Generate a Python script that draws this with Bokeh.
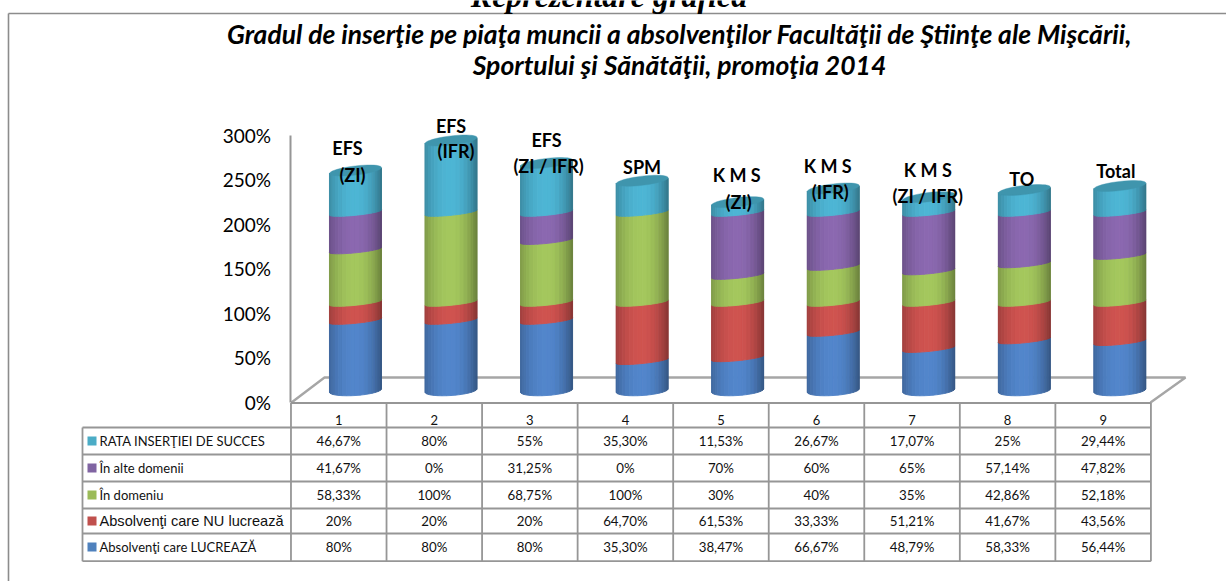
import math
from bokeh.embed import file_html
from bokeh.resources import INLINE
from bokeh.plotting import figure
from bokeh.models import LinearAxis, Range1d, FixedTicker, PrintfTickFormatter
from bokeh.core.properties import value

# ---- data
categories = [1, 2, 3, 4, 5, 6, 7, 8, 9]
lucreaza = [80, 80, 80, 35.30, 38.47, 66.67, 48.79, 58.33, 56.44]
nu_lucreaza = [20, 20, 20, 64.70, 61.53, 33.33, 51.21, 41.67, 43.56]
in_domeniu = [58.33, 100, 68.75, 100, 30, 40, 35, 42.86, 52.18]
in_alte = [41.67, 0, 31.25, 0, 70, 60, 65, 57.14, 47.82]
rata = [46.67, 80, 55, 35.30, 11.53, 26.67, 17.07, 25, 29.44]
series_names = ["Absolvenţi care LUCREAZĂ", "Absolvenţi care NU lucrează", "În  domeniu",
                "În alte  domenii", "RATA INSERŢIEI  DE  SUCCES"]
y_ticks = [0, 50, 100, 150, 200, 250, 300]
bar_labels = [["EFS", "(ZI)"], ["EFS", "(IFR)"], ["EFS", "(ZI / IFR)"], ["SPM"], ["K M S", "(ZI)"],
              ["K M S", "(IFR)"], ["K M S", "(ZI / IFR)"], ["TO"], ["Total"]]
title_lines = ["Gradul de inserţie pe piaţa muncii a absolvenţilor Facultăţii de Ştiinţe ale Mişcării,",
               "Sportului şi Sănătăţii, promoţia 2014"]
heading = "Reprezentare grafică"

series = [lucreaza, nu_lucreaza, in_domeniu, in_alte, rata]
colors = [(79, 129, 196), (200, 80, 77), (158, 192, 90), (134, 101, 170), (75, 175, 205)]

# ---- layout (page pixels)
W, H = 1226, 581
COL = 95.55
X1 = 338.25
K = 0.90
Y0 = 392.0
x_left = (0 - X1) / COL + 1
x_right = (W - X1) / COL + 1
v_top = Y0 / K
v_bot = (Y0 - H) / K
AX_K = 0.89
AX_Y0 = 401.5

p = figure(width=W, height=H, output_backend="svg", toolbar_location=None,
           x_axis_location=None, y_axis_location=None, min_border=0,
           x_range=Range1d(x_left, x_right), y_range=Range1d(v_bot, v_top))
p.outline_line_color = None
p.grid.visible = False
p.background_fill_color = "white"
p.extra_x_ranges["px"] = Range1d(0, W)
p.extra_y_ranges["px"] = Range1d(H, 0)
p.extra_y_ranges["axis"] = Range1d((AX_Y0 - H) / AX_K, AX_Y0 / AX_K)

GRAY = "#969696"
FONT = value("Lato")

# outer frame
p.line([8, 8], [581, 13], x_range_name="px", y_range_name="px", line_color="#8c8c8c", line_width=1.6)
p.line([8, 1226], [13, 13], x_range_name="px", y_range_name="px", line_color="#8c8c8c", line_width=1.4)

# floor
p.line([291, 324, 1185, 1150], [402, 377, 377, 402], x_range_name="px", y_range_name="px",
       line_color="#a6a6a6", line_width=2.4)

# table grid
row_edges = [427, 454, 481, 508, 533, 560.7]
col_edges = [0.5 + i for i in range(10)]
px_col = [X1 + (c - 1) * COL for c in col_edges]
xs = [[c, c] for c in px_col] + [[82, 82]] + [[82, px_col[-1]] for _ in row_edges] + [[px_col[0], px_col[-1]]]
ys = [[402.5, 560.7] for _ in px_col] + [[427, 560.7]] + [[r, r] for r in row_edges] + [[402.5, 402.5]]
p.multi_line(xs, ys, x_range_name="px", y_range_name="px", line_color=GRAY, line_width=1.8)


def shade(rgb, s):
    if s >= 0:
        f = 1.04 - 0.36 * s ** 2.2
    else:
        f = 1.04 - 0.24 * abs(s) ** 2.2
    return "#%02x%02x%02x" % tuple(min(255, int(c * f)) for c in rgb)


R = 26 / COL
OFF = 0.175
N = 18


def curve(v, s, tilt, bulge, shift=0.0):
    return v + (tilt * s - bulge * math.sqrt(max(0, 1 - s * s)) + shift) / K


px_, py_, pc_ = [], [], []
for i, cat in enumerate(categories):
    cx = cat + OFF
    base = 0.0
    for j, ser in enumerate(series):
        val = ser[i]
        top = base + val
        if val > 0:
            for n in range(N):
                a0 = math.pi * (1 - n / N)
                a1 = math.pi * (1 - (n + 1) / N)
                s0, s1 = math.cos(a0), math.cos(a1)
                if base == 0:
                    low0 = curve(base, s0, 1.7, 5.0, 2.0)
                    low1 = curve(base, s1, 1.7, 5.0, 2.0)
                else:
                    low0 = curve(base, s0, 2.6, 2.8)
                    low1 = curve(base, s1, 2.6, 2.8)
                hi0 = curve(top, s0, 2.6, 2.8)
                hi1 = curve(top, s1, 2.6, 2.8)
                px_.append([cx + R * s0, cx + R * s1, cx + R * s1, cx + R * s0])
                py_.append([low0, low1, hi1, hi0])
                pc_.append(shade(colors[j], (s0 + s1) / 2))
        base = top
p.patches(px_, py_, fill_color=pc_, line_color=pc_, line_width=0.9)

# top caps
cap_x, cap_y = [], []
for i, cat in enumerate(categories):
    total = sum(s[i] for s in series)
    cx = cat + OFF
    xx, yy = [], []
    for n in range(40):
        t = 2 * math.pi * n / 40
        c, sn = math.cos(t), math.sin(t)
        xx.append(cx + R * c)
        yy.append(total + (3.0 * c + 4.6 * sn) / K)
    cap_x.append(xx)
    cap_y.append(yy)
p.patches(cap_x, cap_y, fill_color="#3f95ad", line_color="#3f95ad", line_width=0.4)

# value axis
axis = LinearAxis(y_range_name="axis", fixed_location=0.5, ticker=FixedTicker(ticks=y_ticks),
                  formatter=PrintfTickFormatter(format="%d%%"), bounds=(0, 300))
axis.axis_line_color = "#969696"
axis.axis_line_width = 2
axis.major_tick_line_color = None
axis.minor_tick_line_color = None
axis.major_tick_in = 0
axis.major_tick_out = 0
axis.major_label_standoff = 20
axis.major_label_text_font = "Lato"
axis.major_label_text_font_size = "19px"
axis.major_label_text_color = "black"
p.add_layout(axis, "left")


def fmt(v):
    if float(v).is_integer():
        return "%d%%" % v
    return ("%.2f%%" % v).replace(".", ",")


# bar names
label_y = [[147.7, 174], [125, 150], [139, 165.7], [166.7], [174, 201], [165, 191.7], [169, 195.7], [178], [170]]
label_dx = [[-8, -3], [0, 5], [0, 2], [0], [-1, 1], [-5.5, -3], [-1, -1], [-2.5], [-4]]
lx, ly, lt = [], [], []
for i, lines in enumerate(bar_labels):
    for ln, yy, dx in zip(lines, label_y[i], label_dx[i]):
        lx.append(categories[i] + OFF + dx / COL)
        ly.append(yy)
        lt.append(ln)
p.text(lx, ly, text=lt, y_range_name="px", text_font=FONT, text_font_style="bold",
       text_font_size="18px", text_align="center", text_baseline="middle", text_color="black")

# table texts
row_centers = [546.5, 520.5, 494.5, 467.5, 440.5]
cx_, cy_, ct_ = [], [], []
for j, ser in enumerate(series):
    for i, cat in enumerate(categories):
        cx_.append(cat)
        cy_.append(row_centers[j])
        ct_.append(fmt(ser[i]))
p.text(cx_, cy_, text=ct_, y_range_name="px", text_font=FONT, text_font_size="13.3px",
       text_align="center", text_baseline="middle", text_color="#111111")
p.text(categories, [419] * 9, text=[str(c) for c in categories], y_range_name="px", text_font=FONT,
       text_font_size="13px", text_align="center", text_baseline="middle", text_color="#111111")

# legend keys in the table
hexes = ["#4f81bd", "#c0504d", "#9bbb59", "#8064a2", "#4bacc6"]
p.quad(left=[87] * 5, right=[96] * 5, top=[c - 4.5 for c in row_centers], bottom=[c + 4.5 for c in row_centers],
       x_range_name="px", y_range_name="px", fill_color=hexes, line_color=None)
sizes = ["13px", "14.6px", "13px", "13px", "13px"]
fonts = ["Lato", "Liberation Sans", "Lato", "Lato", "Lato"]
for j, name in enumerate(series_names):
    p.text([99], [row_centers[j]], text=[name], x_range_name="px", y_range_name="px",
           text_font=value(fonts[j]), text_font_size=sizes[j], text_align="left", text_baseline="middle",
           text_color="#111111")

# titles
p.text([679, 679], [33, 64], text=title_lines, x_range_name="px", y_range_name="px", text_font=FONT,
       text_font_style="bold italic", text_font_size="26.5px", text_align="center", text_baseline="middle",
       text_color="black")
p.text([608.5], [-5], text=[heading], x_range_name="px", y_range_name="px", text_font=value("Liberation Serif"),
       text_font_style="bold italic", text_font_size="32px", text_align="center", text_baseline="middle",
       text_color="black")

open("out.html", "w").write(file_html(p, INLINE))
